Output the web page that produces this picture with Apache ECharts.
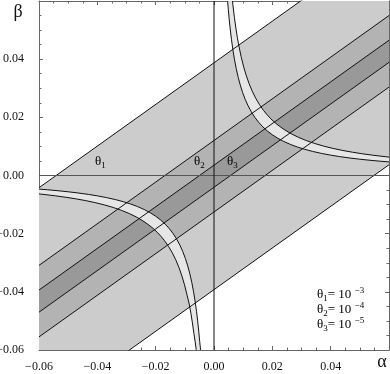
<!DOCTYPE html>
<html><head><meta charset="utf-8">
<script src="https://cdn.jsdelivr.net/npm/echarts@6.0.0/dist/echarts.min.js"></script>
<style>html,body{margin:0;padding:0;background:#fff}#c{width:390px;height:374px}</style>
</head><body><div id="c"></div>
<script>
// ---- data ----
const xTickLabels = [-0.06, -0.04, -0.02, 0.00, 0.02, 0.04];
const yTickLabels = [-0.06, -0.04, -0.02, 0.00, 0.02, 0.04];

// band edges (straight lines, endpoints at alpha = -0.06 and 0.06)
const theta1Upper = [[-0.06, -0.0042], [0.06, 0.0817]];
const theta1Lower = [[-0.06, -0.0822], [0.06, 0.0037]];
const theta2Upper = [[-0.06, -0.0309], [0.06, 0.0550]];
const theta2Lower = [[-0.06, -0.0555], [0.06, 0.0304]];
const theta3Upper = [[-0.06, -0.0394], [0.06, 0.0465]];
const theta3Lower = [[-0.06, -0.0470], [0.06, 0.0389]];

// curved strip, upper-right branch (inner and outer edge)
const innerUR = [[0.00467,0.05996],[0.0049,0.05714],[0.0052,0.05385],[0.0056,0.05],[0.006,0.04667],[0.0065,0.04308],[0.007,0.04],[0.0076,0.03684],[0.0083,0.03373],[0.009,0.03111],[0.0098,0.02857],[0.0107,0.02617],[0.0117,0.02393],[0.0128,0.02188],[0.014,0.02],[0.0153,0.0183],[0.01673,0.01673],[0.0183,0.0153],[0.02,0.014],[0.02188,0.0128],[0.02393,0.0117],[0.02617,0.0107],[0.02857,0.0098],[0.03111,0.009],[0.03373,0.0083],[0.03684,0.0076],[0.04,0.007],[0.04308,0.0065],[0.04667,0.006],[0.05,0.0056],[0.05385,0.0052],[0.05714,0.0049],[0.06,0.00467]];
const outerUR = [[0.00634,0.05994],[0.0066,0.05758],[0.007,0.05429],[0.0075,0.05067],[0.008,0.0475],[0.0086,0.04419],[0.0093,0.04086],[0.0101,0.03762],[0.011,0.03455],[0.012,0.03167],[0.0131,0.02901],[0.0143,0.02657],[0.0156,0.02436],[0.017,0.02235],[0.0182,0.02088],[0.01949,0.01949],[0.02088,0.0182],[0.02235,0.017],[0.02436,0.0156],[0.02657,0.0143],[0.02901,0.0131],[0.03167,0.012],[0.03455,0.011],[0.03762,0.0101],[0.04086,0.0093],[0.04419,0.0086],[0.0475,0.008],[0.05067,0.0075],[0.05429,0.007],[0.05758,0.0066],[0.06,0.00633]];
// lower-left branch
const innerLL = [[-0.0046,-0.05996],[-0.0049,-0.05714],[-0.0052,-0.05385],[-0.0056,-0.05],[-0.006,-0.04667],[-0.0065,-0.04308],[-0.007,-0.04],[-0.0076,-0.03684],[-0.0083,-0.03373],[-0.009,-0.03111],[-0.0098,-0.02857],[-0.0107,-0.02617],[-0.0117,-0.02393],[-0.0128,-0.02188],[-0.014,-0.02],[-0.0153,-0.0183],[-0.01673,-0.01673],[-0.0183,-0.0153],[-0.02,-0.014],[-0.02188,-0.0128],[-0.02393,-0.0117],[-0.02617,-0.0107],[-0.02857,-0.0098],[-0.03111,-0.009],[-0.03373,-0.0083],[-0.03684,-0.0076],[-0.04,-0.007],[-0.04308,-0.0065],[-0.04667,-0.006],[-0.05,-0.0056],[-0.05385,-0.0052],[-0.05714,-0.0049],[-0.06,-0.00467]];
const outerLL = [[-0.0061,-0.05994],[-0.0064,-0.05758],[-0.0069,-0.05429],[-0.0074,-0.05067],[-0.0079,-0.0475],[-0.0085,-0.04419],[-0.0093,-0.04086],[-0.0101,-0.03762],[-0.011,-0.03455],[-0.012,-0.03167],[-0.0131,-0.02901],[-0.0143,-0.02657],[-0.0156,-0.02436],[-0.017,-0.02235],[-0.0182,-0.02088],[-0.01949,-0.01949],[-0.02088,-0.0182],[-0.02235,-0.017],[-0.02436,-0.0156],[-0.02657,-0.0143],[-0.02901,-0.0131],[-0.03167,-0.012],[-0.03455,-0.011],[-0.03762,-0.0101],[-0.04086,-0.0093],[-0.04419,-0.0086],[-0.0475,-0.008],[-0.05067,-0.0075],[-0.05429,-0.007],[-0.05758,-0.0066],[-0.06,-0.00633]];

const zeroV = [[0, -0.06], [0, 0.06]];
const zeroH = [[-0.06, 0], [0.06, 0]];

const legendLines = [['1', '−3'], ['2', '−4'], ['3', '−5']];
const bandLabels = ['1', '2', '3'];

// ---- build chart ----
const FONT = 'Liberation Serif';
function fmt(v) {
  if (Math.abs(v) < 1e-9) return '0.00';
  const s = v.toFixed(2);
  return s.replace('-', '−');
}
function inList(list, v) { return list.some(t => Math.abs(t - v) < 1e-9); }

function poly(verts, color) {
  return {
    type: 'custom', clip: true, silent: true, data: [[0, 0]],
    renderItem: function (params, api) {
      return { type: 'polygon', shape: { points: verts.map(p => api.coord(p)) }, style: { fill: color, stroke: null } };
    }
  };
}
function line(pts, color) {
  return { type: 'line', data: pts, showSymbol: false, symbol: 'none', silent: true, clip: true,
    lineStyle: { color: color, width: 1 }, animation: false };
}
const bandPoly = (u, l) => [u[0], u[1], l[1], l[0]];

const axisCommon = {
  type: 'value', min: -0.06, max: 0.06, interval: 0.02,
  splitLine: { show: false },
  axisLine: { show: true, onZero: false, lineStyle: { color: '#666', width: 1 } },
  axisTick: { show: true, inside: true, length: 4, lineStyle: { color: '#666' } },
  minorTick: { show: true, splitNumber: 4, length: 2.5, lineStyle: { color: '#666' } },
  minorSplitLine: { show: false }
};
const labelStyle = { fontFamily: FONT, fontSize: 12, color: '#111' };

const option = {
  animation: false,
  backgroundColor: '#fff',
  grid: { left: 39, right: 1, top: 1, bottom: 24, containLabel: false, outerBoundsMode: 'none' },
  xAxis: [
    Object.assign({}, axisCommon, { position: 'bottom',
      axisLabel: Object.assign({}, labelStyle, { margin: 11, formatter: v => inList(xTickLabels, v) ? fmt(v) : '' }) }),
    Object.assign({}, axisCommon, { position: 'top', axisLabel: { show: false } })
  ],
  yAxis: [
    Object.assign({}, axisCommon, { position: 'left',
      axisLabel: Object.assign({}, labelStyle, { margin: 15, formatter: v => inList(yTickLabels, v) ? fmt(v) : '' }) }),
    Object.assign({}, axisCommon, { position: 'right', axisLabel: { show: false } })
  ],
  series: [
    poly(bandPoly(theta1Upper, theta1Lower), '#cccccc'),
    poly(bandPoly(theta2Upper, theta2Lower), '#b3b3b3'),
    poly(bandPoly(theta3Upper, theta3Lower), '#999999'),
    line(theta1Upper, '#111'), line(theta1Lower, '#111'),
    line(theta2Upper, '#111'), line(theta2Lower, '#111'),
    line(theta3Upper, '#111'), line(theta3Lower, '#111'),
    poly(innerUR.concat(outerUR.slice().reverse()), '#e6e6e6'),
    poly(innerLL.concat(outerLL.slice().reverse()), '#e6e6e6'),
    line(innerUR, '#111'), line(outerUR, '#111'),
    line(innerLL, '#111'), line(outerLL, '#111'),
    line(zeroH, '#555'), line(zeroV, '#111')
  ],
  graphic: []
};

const rich = {
  t: { fontFamily: FONT, fontSize: 13, color: '#111', lineHeight: 17 },
  s: { fontFamily: FONT, fontSize: 9, color: '#111', verticalAlign: 'bottom' },
  p: { fontFamily: FONT, fontSize: 9, color: '#111', verticalAlign: 'top' }
};
// labels inside the plot
const bandLabelPos = [[95, 162], [194, 162], [227, 162]];
bandLabels.forEach((s, i) => {
  option.graphic.push({ type: 'text', x: bandLabelPos[i][0], y: bandLabelPos[i][1], z: 100, silent: true,
    style: { text: '{t|θ}{s|' + s + '}', rich: rich, verticalAlign: 'middle', align: 'left' } });
});
legendLines.forEach((l, i) => {
  option.graphic.push({ type: 'text', x: 317, y: 295 + i * 15, z: 100, silent: true,
    style: { text: '{t|θ}{s|' + l[0] + '}{t|= 10 }{p|' + l[1] + '}', rich: rich, verticalAlign: 'middle', align: 'left' } });
});
option.graphic.push({ type: 'text', x: 18, y: 12, z: 100, silent: true,
  style: { text: 'β', fontFamily: FONT, fontSize: 18, fill: '#111', align: 'center', verticalAlign: 'middle' } });
option.graphic.push({ type: 'text', x: 382, y: 362, z: 100, silent: true,
  style: { text: 'α', fontFamily: FONT, fontSize: 18, fill: '#111', align: 'center', verticalAlign: 'middle' } });

const chart = echarts.init(document.getElementById('c'), null, { renderer: 'canvas' });
chart.setOption(option);
</script>
</body></html>
